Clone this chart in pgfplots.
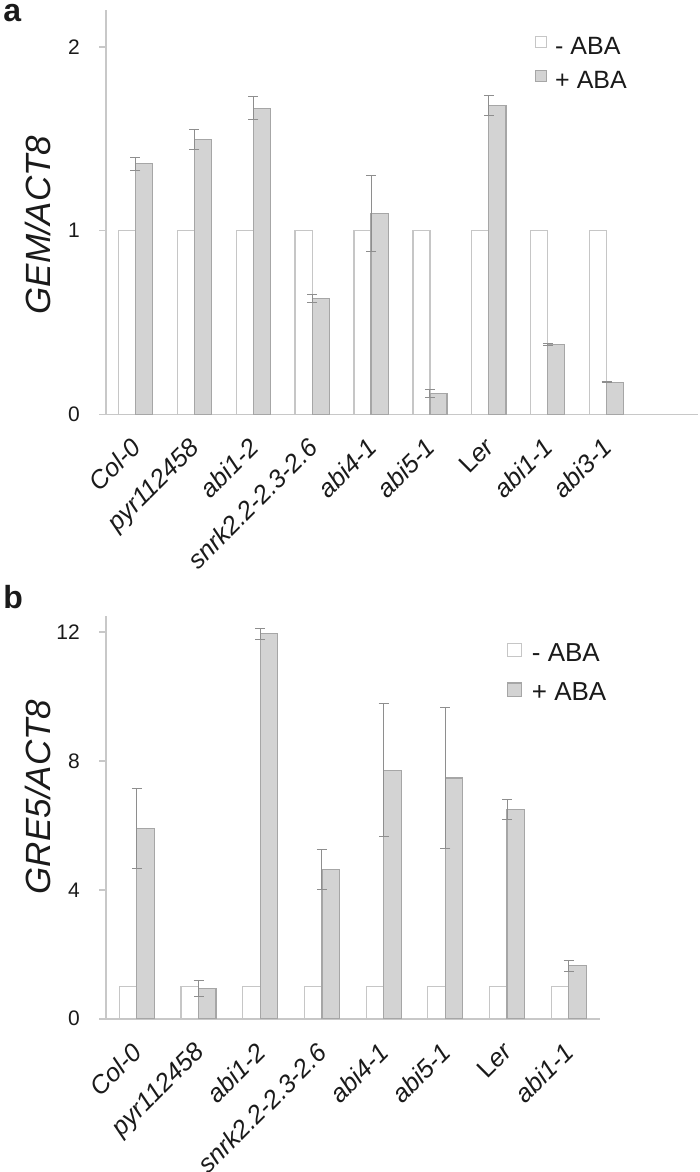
\documentclass[border=0pt]{standalone}
\usepackage{pgfplots}
\usepackage{pgfplotstable}
\pgfplotsset{compat=1.18}
\usepackage{fontspec}
\setmainfont{Liberation Sans}

\definecolor{axgray}{HTML}{C8C8C8}
\definecolor{barfill}{HTML}{D3D3D3}
\definecolor{barline}{HTML}{A6A6A6}
\definecolor{wline}{HTML}{C6C6C6}
\definecolor{errc}{HTML}{8E8E8E}
\definecolor{txt}{HTML}{1A1A1A}

\pgfplotstableread{
x y
0 1
1 1
2 1
3 1
4 1
5 1
6 1
7 1
8 1
}\gemminus
\pgfplotstableread{
x y e
0 1.363 0.035
1 1.495 0.055
2 1.666 0.064
3 0.631 0.020
4 1.093 0.208
5 0.113 0.023
6 1.680 0.054
7 0.379 0.006
8 0.175 0.004
}\gemplus
\pgfplotstableread{
x y
0 1
1 1
2 1
3 1
4 1
5 1
6 1
7 1
}\greminus
\pgfplotstableread{
x y e
0 5.91 1.24
1 0.94 0.26
2 11.95 0.17
3 4.62 0.62
4 7.71 2.07
5 7.47 2.18
6 6.49 0.30
7 1.64 0.17
}\greplus

\pgfplotsset{
 panel/.style={
  scale only axis,
  axis x line=bottom, axis y line=left,
  axis line style={-, draw=axgray, line width=0.8pt},
  xmin=-0.5, ymin=0,
  tick align=outside,
  major tick length=3.4pt,
  ytick style={draw=axgray, line width=0.8pt},
  xtick style={draw=none},
  tick label style={text=txt},
  yticklabel style={font=\fontsize{10.5}{12}\selectfont, anchor=east, inner sep=0pt, xshift=-9.5pt},
  xticklabel style={font=\fontsize{12.7}{14}\selectfont\itshape, inner sep=0pt, anchor=north east, xshift=-3pt, yshift=-7.5pt, rotate=45},
  /pgf/number format/assume math mode=true,
  ylabel style={font=\fontsize{17.5}{20}\selectfont\itshape, text=txt, anchor=center},
  legend cell align=left,
 },
 whitebar/.style={ybar, bar width=#1, bar shift=-#1/2, fill=white, draw=wline, line width=0.6pt},
 graybar/.style={ybar, bar width=#1, bar shift=#1/2, fill=barfill, draw=barline, line width=0.6pt,
   error bars/y dir=both, error bars/y explicit,
   error bars/error bar style={draw=errc, line width=0.5pt, solid},
   error bars/error mark options={rotate=90, draw=errc, line width=0.5pt, mark size=2.5pt}},
}

\begin{document}
\begin{tikzpicture}
\useasboundingbox (0pt,-586pt) rectangle (350pt,0pt);

\node[anchor=base west, inner sep=0pt, font=\fontsize{16}{19}\selectfont\bfseries, text=txt] at (1.5pt,-11pt) {a};
\node[anchor=base west, inner sep=0pt, font=\fontsize{16}{19}\selectfont\bfseries, text=txt] at (1.5pt,-304.15pt) {b};

\begin{axis}[panel,
  at={(53pt,-207.15pt)}, anchor=south west,
  width=296pt, height=202.15pt,
  xmax=9.55, ymax=2.2,
  ytick={0,1,2},
  xtick={0,1,2,3,4,5,6,7,8},
  xticklabels={Col-0,pyr112458,abi1-2,snrk2.2-2.3-2.6,abi4-1,abi5-1,\textup{L}er,abi1-1,abi3-1},
  ylabel={GEM/ACT8},
  ylabel style={at={(axis description cs:-0.1157,0.468)}},
  legend image code/.code={\draw[#1] (0pt,-0.89pt) rectangle (5.5pt,4.61pt);},
  legend style={draw=none, fill=none, inner sep=0pt, outer sep=0pt, text=txt,
    font=\fontsize{12.5}{15}\selectfont,
    nodes={inner sep=0pt, text height=9pt, text depth=0pt},
    row sep=7.35pt, /tikz/every odd column/.append style={column sep=4pt},
    at={(axis description cs:0.7247,0.9357)}, anchor=north west},
]
\addplot[whitebar=0.29] table[x=x,y=y]{\gemminus};
\addplot[graybar=0.29] table[x=x,y=y,y error=e]{\gemplus};
\legend{- ABA,+ ABA}
\end{axis}

\begin{axis}[panel,
  at={(53pt,-509.35pt)}, anchor=south west,
  width=246.8pt, height=201.4pt,
  xmax=7.5, ymax=12.5,
  ytick={0,4,8,12},
  xtick={0,1,2,3,4,5,6,7},
  xticklabels={Col-0,pyr112458,abi1-2,snrk2.2-2.3-2.6,abi4-1,abi5-1,\textup{L}er,abi1-1},
  ylabel={GRE5/ACT8},
  ylabel style={at={(axis description cs:-0.1388,0.5504)}},
  legend image code/.code={\draw[#1] (0pt,-2.42pt) rectangle (7pt,4.23pt);},
  legend style={draw=none, fill=none, inner sep=0pt, outer sep=0pt, text=txt,
    font=\fontsize{13}{16}\selectfont,
    nodes={inner sep=0pt, text height=9.4pt, text depth=0pt},
    row sep=10.4pt, /tikz/every odd column/.append style={column sep=5pt},
    at={(axis description cs:0.8118,0.9342)}, anchor=north west},
]
\addplot[whitebar=0.284] table[x=x,y=y]{\greminus};
\addplot[graybar=0.284] table[x=x,y=y,y error=e]{\greplus};
\legend{- ABA,+ ABA}
\end{axis}
\end{tikzpicture}
\end{document}
